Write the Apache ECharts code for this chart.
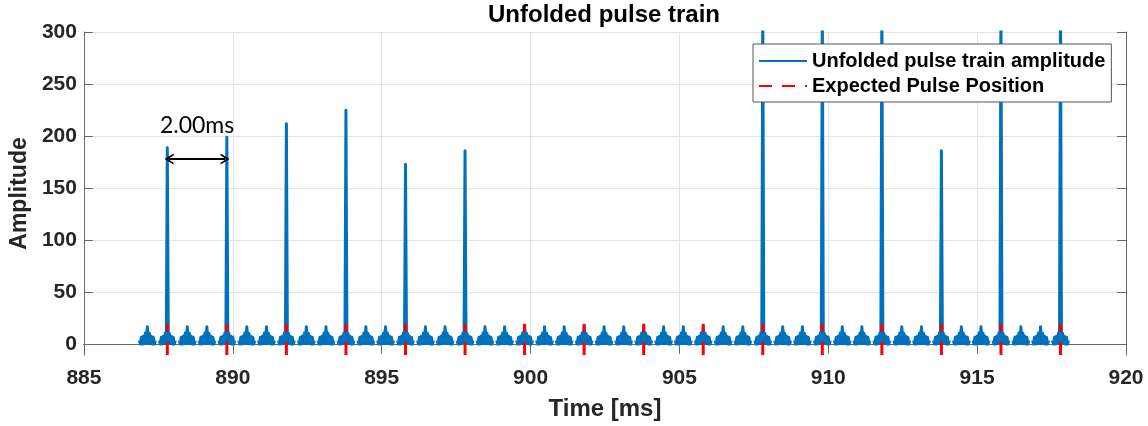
<!DOCTYPE html>
<html>
<head>
<meta charset="utf-8">
<script src="https://cdn.jsdelivr.net/npm/echarts@6/dist/echarts.min.js"></script>
<style>
  html, body { margin: 0; padding: 0; background: #fff; }
  #chart { width: 1148px; height: 426px; }
</style>
</head>
<body>
<div id="chart"></div>
<script>
// expected pulse positions (ms) and the pulse amplitude found there (null = missing pulse)
const pulseTimes = [887.8, 889.8, 891.8, 893.8, 895.8, 897.8, 899.8, 901.8,
  903.8, 905.8, 907.8, 909.8, 911.8, 913.8, 915.8, 917.8];
const pulseAmps = [189, 199, 212, 225, 173, 186, null, null,
  null, null, 330, 330, 330, 186, 330, 330];

// centres of the small ripples sitting on the baseline
const rippleTimes = [887.13, 887.8, 888.47, 889.13, 889.8, 890.47, 891.13, 891.8,
  892.47, 893.13, 893.8, 894.47, 895.13, 895.8, 896.47, 897.13, 897.8, 898.47,
  899.13, 899.8, 900.47, 901.13, 901.8, 902.47, 903.13, 903.8, 904.47, 905.13,
  905.8, 906.47, 907.13, 907.8, 908.47, 909.13, 909.8, 910.47, 911.13, 911.8,
  912.47, 913.13, 913.8, 914.47, 915.13, 915.8, 916.47, 917.13, 917.8];
// one ripple: time offset (ms) and amplitude (fast oscillation around the centre)
const rippleOffsets = [-0.268, -0.235, -0.201, -0.168, -0.134, -0.1, -0.067, -0.034, 0,
  0.034, 0.067, 0.1, 0.134, 0.168, 0.201, 0.235, 0.268];
const rippleAmps = [4, 0.5, 7, 0.5, 8, 1, 11, 1, 17, 1, 11, 1, 8, 0.5, 7, 0.5, 4];

// expected position markers run from / to these amplitudes
const markerRange = [-10, 20];
// the "2.00ms" spacing annotation
const spanStart = [887.86, 178];
const spanEnd = [889.74, 178];

const xTicks = [885, 890, 895, 900, 905, 910, 915, 920];
const yTicks = [0, 50, 100, 150, 200, 250, 300];

const FONT = "'Liberation Sans', Arial, sans-serif";
const BLUE = "#0072BD";
const RED = "#FF0000";
const AXIS = "#6a6a6a";

// build the line data, breaking the line between ripples
const ampData = [];
rippleTimes.forEach((t) => {
  const idx = pulseTimes.findIndex((p) => Math.abs(p - t) < 0.01);
  rippleOffsets.forEach((off, i) => {
    let v = rippleAmps[i];
    if (off === 0 && idx >= 0 && pulseAmps[idx] !== null) v = pulseAmps[idx];
    ampData.push([+(t + off).toFixed(3), v]);
  });
  ampData.push([t + 0.3, "-"]);
});

const markerData = [];
pulseTimes.forEach((p) => {
  markerData.push([p, markerRange[0]], [p, markerRange[1]], [p, "-"]);
});

const chevron = "path://M0,10 L5,0 L10,10 L8.2,10 L5,3.6 L1.8,10 Z";

const chart = echarts.init(document.getElementById("chart"), null, { renderer: "canvas" });

chart.setOption({
  animation: false,
  backgroundColor: "#fff",
  title: {
    text: "Unfolded pulse train",
    left: 604,
    top: 3,
    padding: 0,
    textAlign: "center",
    textStyle: { fontFamily: FONT, fontWeight: "bold", fontSize: 24, color: "#000" },
  },
  grid: { left: 82, right: 22, top: 32, bottom: 71, containLabel: false },
  legend: {
    data: ["Unfolded pulse train amplitude", "Expected Pulse Position"],
    orient: "vertical",
    left: 753,
    top: 44,
    padding: [7, 6, 6, 5],
    itemGap: 5,
    itemWidth: 48,
    itemHeight: 14,
    itemStyle: { opacity: 0 },
    backgroundColor: "#fff",
    borderColor: "#555",
    borderWidth: 1,
    textStyle: { fontFamily: FONT, fontWeight: "bold", fontSize: 20, color: "#000" },
  },
  xAxis: [
    {
      type: "value",
      min: xTicks[0],
      max: xTicks[xTicks.length - 1],
      interval: 5,
      name: "Time [ms]",
      nameLocation: "middle",
      nameGap: 42,
      nameTextStyle: { fontFamily: FONT, fontWeight: "bold", fontSize: 24, color: "#262626" },
      axisLine: { lineStyle: { color: AXIS, width: 1 } },
      axisTick: { inside: true, length: 9, lineStyle: { color: AXIS } },
      axisLabel: { margin: 13, fontFamily: FONT, fontWeight: "bold", fontSize: 21, color: "#262626" },
      splitLine: { show: true, lineStyle: { color: "#e4e4e4", width: 1 } },
    },
    {
      type: "value",
      position: "top",
      min: xTicks[0],
      max: xTicks[xTicks.length - 1],
      interval: 5,
      axisLine: { lineStyle: { color: AXIS, width: 1 } },
      axisTick: { inside: true, length: 9, lineStyle: { color: AXIS } },
      axisLabel: { show: false },
      splitLine: { show: false },
    },
  ],
  yAxis: [
    {
      type: "value",
      min: -10,
      max: 300,
      name: "Amplitude",
      nameLocation: "middle",
      nameGap: 50,
      nameTextStyle: { fontFamily: FONT, fontWeight: "bold", fontSize: 23, color: "#262626" },
      axisLine: { show: true, lineStyle: { color: AXIS, width: 1 } },
      axisTick: { show: true, inside: true, length: 9, customValues: yTicks, lineStyle: { color: AXIS } },
      axisLabel: { margin: 7, customValues: yTicks, fontFamily: FONT, fontWeight: "bold", fontSize: 21, color: "#262626" },
      splitLine: { show: true, lineStyle: { color: "#e4e4e4", width: 1 } },
    },
    {
      type: "value",
      position: "right",
      min: -10,
      max: 300,
      axisLine: { show: true, lineStyle: { color: AXIS, width: 1 } },
      axisTick: { show: true, inside: true, length: 9, customValues: yTicks, lineStyle: { color: AXIS } },
      axisLabel: { show: false },
      splitLine: { show: false },
    },
  ],
  series: [
    {
      name: "Unfolded pulse train amplitude",
      type: "line",
      data: ampData,
      showSymbol: false,
      symbol: "none",
      connectNulls: false,
      lineStyle: { color: BLUE, width: 3, join: "round" },
      itemStyle: { color: BLUE },
      z: 2,
    },
    {
      name: "Expected Pulse Position",
      type: "line",
      data: markerData,
      showSymbol: false,
      symbol: "none",
      connectNulls: false,
      lineStyle: { color: RED, width: 3, type: [13, 10] },
      itemStyle: { color: RED },
      z: 3,
    },
    {
      name: "spacing",
      type: "line",
      data: [],
      markLine: {
        silent: true,
        symbol: [chevron, chevron],
        symbolSize: [11, 9],
        lineStyle: { color: "#000", width: 2, type: "solid" },
        label: {
          show: true,
          position: "middle",
          formatter: "2.00ms",
          distance: 22,
          color: "#000",
          fontFamily: "Lato, 'Open Sans', sans-serif",
          fontSize: 23,
        },
        data: [[{ coord: spanStart }, { coord: spanEnd }]],
      },
      z: 4,
    },
  ],
});
</script>
</body>
</html>
